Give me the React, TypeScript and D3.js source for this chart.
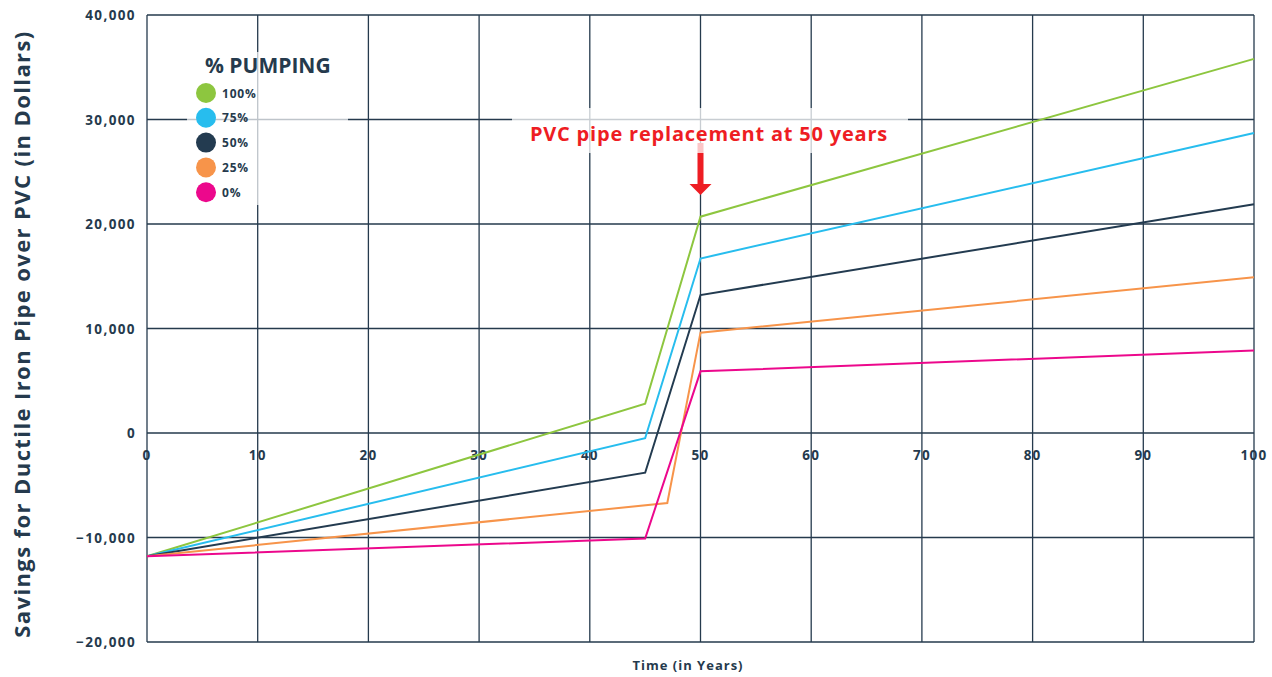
import React from 'react';
import * as d3 from 'd3';

// x positions (years) for each series
const years = [0, 45, 50, 100];
const yearsOrange = [0, 47, 50, 100];

const seriesNames = ['100%', '75%', '50%', '25%', '0%'];
const seriesColors = ['#8dc63f', '#27bdee', '#233b50', '#f7944a', '#ec088c'];

const pump100 = [-11800, 2800, 20700, 35800];
const pump75 = [-11800, -500, 16700, 28700];
const pump50 = [-11800, -3800, 13200, 21900];
const pump25 = [-11800, -6700, 9600, 14900];
const pump0 = [-11800, -10100, 5900, 7900];

const xTicks = [0, 10, 20, 30, 40, 50, 60, 70, 80, 90, 100];
const yTicks = [-20000, -10000, 0, 10000, 20000, 30000, 40000];

const W = 1272;
const H = 677;
const margin = { top: 15, right: 18, bottom: 35, left: 147 };
const navy = '#253a4d';
const font = '"Open Sans", Lato, sans-serif';

export default function App() {
  const x = d3.scaleLinear().domain([0, 100]).range([margin.left, W - margin.right]);
  const y = d3.scaleLinear().domain([-20000, 40000]).range([H - margin.bottom, margin.top]);

  const series = [
    { name: seriesNames[0], color: seriesColors[0], xs: years, vals: pump100 },
    { name: seriesNames[1], color: seriesColors[1], xs: years, vals: pump75 },
    { name: seriesNames[2], color: seriesColors[2], xs: years, vals: pump50 },
    { name: seriesNames[3], color: seriesColors[3], xs: yearsOrange, vals: pump25 },
    { name: seriesNames[4], color: seriesColors[4], xs: years, vals: pump0 },
  ];

  const line = d3
    .line<[number, number]>()
    .x((d) => x(d[0]))
    .y((d) => y(d[1]));

  const ax = x(50);

  return (
    <div style={{ position: 'absolute', left: 0, top: 0 }}>
      <svg width={W} height={H} style={{ display: 'block', background: '#fff' }}>
        {/* grid */}
        <g stroke={navy} strokeWidth={1.3}>
          {xTicks.map((t) => (
            <line key={'gx' + t} x1={x(t)} x2={x(t)} y1={y(40000)} y2={y(-20000)} />
          ))}
          {yTicks.map((t) => (
            <line key={'gy' + t} x1={x(0)} x2={x(100)} y1={y(t)} y2={y(t)} />
          ))}
        </g>

        {/* y tick labels */}
        <g fill={navy} fontFamily={font} fontWeight={700} fontSize={13.5} textAnchor="end">
          {yTicks.map((t) => (
            <text key={'yl' + t} x={x(0) - 11} y={y(t) + 5} letterSpacing={1.4}>
              {d3.format(',')(t)}
            </text>
          ))}
        </g>

        {/* x tick labels on zero line */}
        <g fill={navy} fontFamily={font} fontWeight={700} fontSize={13.5} textAnchor="middle">
          {xTicks.map((t) => (
            <text key={'xl' + t} x={x(t)} y={y(0) + 27} letterSpacing={1.2}>
              {t}
            </text>
          ))}
        </g>

        {/* series */}
        {series.map((s) => (
          <path
            key={s.name}
            d={line(s.xs.map((v, i) => [v, s.vals[i]] as [number, number])) || ''}
            fill="none"
            stroke={s.color}
            strokeWidth={2}
          />
        ))}

        {/* arrow */}
        <rect x={ax - 3} y={143} width={6} height={42} fill="#ee1d23" />
        <path d={`M${ax - 11},184 L${ax + 11},184 L${ax},195 Z`} fill="#ee1d23" />

        {/* annotation box */}
        <rect x={512} y={108} width={396} height={45} fill="#fff" opacity={0.75} />
        <text
          x={709}
          y={141}
          textAnchor="middle"
          fill="#ee1d23"
          fontFamily={font}
          fontWeight={700}
          fontSize={20}
          letterSpacing={0.8}
        >
          PVC pipe replacement at 50 years
        </text>

        {/* legend */}
        <rect x={187} y={52} width={161} height={153} fill="#fff" opacity={0.7} />
        <text x={205} y={73} fill={navy} fontFamily={font} fontWeight={700} fontSize={21}>
          % PUMPING
        </text>
        {series.map((s, i) => (
          <g key={'lg' + s.name} transform={`translate(206, ${93 + i * 24.8})`}>
            <circle r={10} fill={s.color} />
            <text x={16} y={4.5} fill={navy} fontFamily={font} fontWeight={700} fontSize={12} letterSpacing={0.8}>
              {s.name}
            </text>
          </g>
        ))}

        {/* axis titles */}
        <text
          transform={`translate(30, 334) rotate(-90)`}
          textAnchor="middle"
          fill={navy}
          fontFamily={font}
          fontWeight={700}
          fontSize={22}
          letterSpacing={1.4}
        >
          Savings for Ductile Iron Pipe over PVC (in Dollars)
        </text>
        <text
          x={688}
          y={670}
          textAnchor="middle"
          fill={navy}
          fontFamily={font}
          fontWeight={700}
          fontSize={13}
          letterSpacing={1}
        >
          Time (in Years)
        </text>
      </svg>
    </div>
  );
}
